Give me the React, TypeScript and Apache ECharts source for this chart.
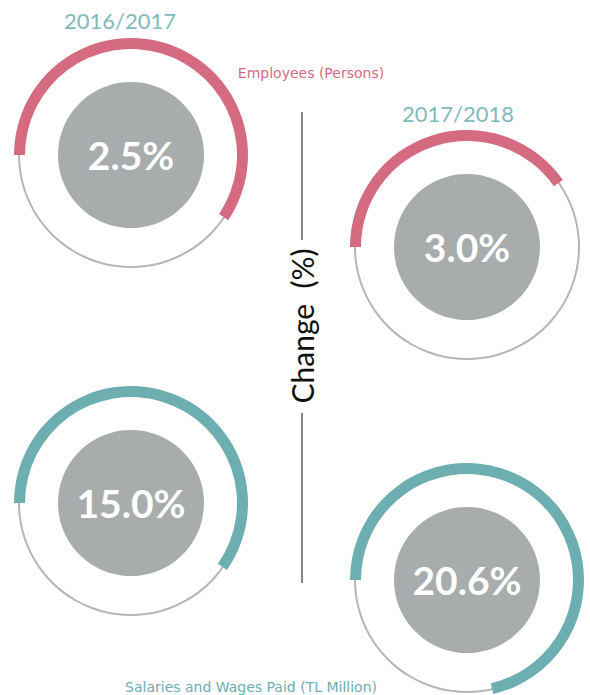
import React, { useEffect, useRef } from "react";
import * as echarts from "echarts";

const periods = ["2016/2017", "2017/2018"];
const metrics = ["Employees (Persons)", "Salaries and Wages Paid (TL Million)"];
const changeLabels = ["2.5%", "3.0%", "15.0%", "20.6%"];
// share of the ring covered by the coloured arc
const arcShares = [0.594, 0.403, 0.597, 0.714];
const axisTitle = "Change  (%)";

const PINK = "#d46b81";
const TEAL = "#6daeb1";
const TITLE_TEAL = "#82b9ba";
const RING_GRAY = "#b4b6b7";
const DISC_GRAY = "#a8acad";

const centers: [number, number][] = [
  [131, 155],
  [467, 247],
  [131, 503],
  [467, 580],
];
const colors = [PINK, PINK, TEAL, TEAL];

export default function App() {
  const ref = useRef<HTMLDivElement>(null);
  useEffect(() => {
    if (!ref.current) return;
    const chart = echarts.init(ref.current, undefined, { renderer: "svg" });
    const series: any[] = [];
    changeLabels.forEach((lab, i) => {
      const c = centers[i];
      series.push({
        type: "gauge",
        center: c,
        radius: 113,
        startAngle: 180,
        endAngle: -180,
        min: 0,
        max: 1,
        silent: true,
        axisLine: { show: true, lineStyle: { width: 2, color: [[1, RING_GRAY]] } },
        progress: { show: false },
        pointer: { show: false },
        axisTick: { show: false },
        splitLine: { show: false },
        axisLabel: { show: false },
        detail: { show: false },
        title: { show: false },
        data: [{ value: 0 }],
      });
      series.push({
        type: "gauge",
        center: c,
        radius: 117,
        startAngle: 180,
        endAngle: -180,
        min: 0,
        max: 1,
        silent: true,
        axisLine: { show: false },
        progress: { show: true, width: 11, roundCap: false, itemStyle: { color: colors[i] } },
        pointer: { show: false },
        axisTick: { show: false },
        splitLine: { show: false },
        axisLabel: { show: false },
        detail: { show: false },
        title: { show: false },
        data: [{ value: arcShares[i] }],
      });
      series.push({
        type: "pie",
        center: c,
        radius: [0, 73],
        silent: true,
        itemStyle: { color: DISC_GRAY },
        label: {
          show: true,
          position: "center",
          formatter: lab,
          color: "#ffffff",
          fontFamily: "Lato",
          fontWeight: "bold",
          fontSize: 39,
        },
        labelLine: { show: false },
        data: [{ value: 1, name: lab }],
      });
    });
    chart.setOption({
      animation: false,
      series,
      graphic: [
        {
          type: "text",
          x: 120,
          y: 20,
          style: { text: periods[0], fill: TITLE_TEAL, font: "22px Lato", align: "center", verticalAlign: "middle" },
        },
        {
          type: "text",
          x: 458,
          y: 113,
          style: { text: periods[1], fill: TITLE_TEAL, font: "22px Lato", align: "center", verticalAlign: "middle" },
        },
        {
          type: "text",
          x: 311,
          y: 73,
          style: { text: metrics[0], fill: PINK, font: "14px 'DejaVu Sans'", align: "center", verticalAlign: "middle" },
        },
        {
          type: "text",
          x: 251,
          y: 687,
          style: { text: metrics[1], fill: TEAL, font: "14px 'DejaVu Sans'", align: "center", verticalAlign: "middle" },
        },
        {
          type: "text",
          x: 302,
          y: 326,
          rotation: Math.PI / 2,
          style: { text: axisTitle, fill: "#111111", font: "30px Lato", align: "center", verticalAlign: "middle" },
        },
        {
          type: "line",
          shape: { x1: 302, y1: 112, x2: 302, y2: 240 },
          style: { stroke: "#111111", lineWidth: 1 },
        },
        {
          type: "line",
          shape: { x1: 302, y1: 413, x2: 302, y2: 583 },
          style: { stroke: "#111111", lineWidth: 1 },
        },
      ],
    });
    return () => chart.dispose();
  }, []);
  return (
    <div
      ref={ref}
      style={{ position: "absolute", left: 0, top: 0, width: 590, height: 695, background: "#ffffff" }}
    />
  );
}
